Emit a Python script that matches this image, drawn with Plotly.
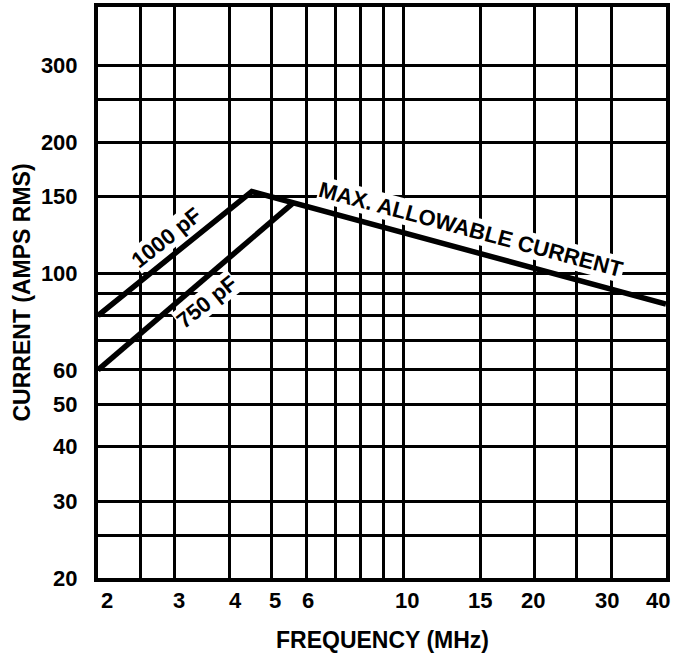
import numpy as np
import plotly.graph_objects as go

# ---- data ----
x_grid = [2, 2.5, 3, 4, 5, 6, 7, 8, 9, 10, 15, 20, 25, 30, 40]
x_tick_vals = [2, 3, 4, 5, 6, 10, 15, 20, 30, 40]
x_tick_text = ["2", "3", "4", "5", "6", "10", "15", "20", "30", "40"]
x_tick_shift = [9, 4, 6, 3, 2, 4, 0, -2, -4, -8]

y_grid = [20, 25, 30, 40, 50, 60, 70, 80, 90, 100, 150, 200, 250, 300]
y_tick_vals = [20, 30, 40, 50, 60, 100, 150, 200, 300]
y_tick_text = ["20", "30", "40", "50", "60", "100", "150", "200", "300"]

freq_1000pf = [2, 4.5, 40]
curr_1000pf = [80, 154, 85]
freq_750pf = [2, 5.6]
curr_750pf = [60, 145]

FONT = "Liberation Sans, Arial, Helvetica, sans-serif"
BOLD = dict(family=FONT, color="black", weight="bold")

fig = go.Figure()
fig.add_trace(go.Scatter(x=freq_1000pf, y=curr_1000pf, mode="lines",
                         line=dict(color="black", width=5.5), showlegend=False,
                         name="1000 pF / Max. allowable current"))
fig.add_trace(go.Scatter(x=freq_750pf, y=curr_750pf, mode="lines",
                         line=dict(color="black", width=5.5), showlegend=False,
                         name="750 pF"))

# x tick labels as annotations (hand-lettered offsets)
for v, t, s in zip(x_tick_vals, x_tick_text, x_tick_shift):
    fig.add_annotation(x=np.log10(v), y=0, xref="x", yref="paper", text=t,
                       showarrow=False, yanchor="middle", yshift=-22, xshift=s,
                       font=dict(size=22, **BOLD))

# axis titles
fig.add_annotation(x=0.5, y=0, xref="paper", yref="paper", text="FREQUENCY (MHz)",
                   showarrow=False, yanchor="middle", yshift=-62, xshift=0,
                   font=dict(size=23, **BOLD))
fig.add_annotation(x=0, y=0.5, xref="paper", yref="paper", text="CURRENT (AMPS RMS)",
                   showarrow=False, xanchor="center", xshift=-77, textangle=-90,
                   font=dict(size=23, **BOLD))

# curve labels
fig.add_annotation(x=np.log10(2.87), y=np.log10(121), xref="x", yref="y",
                   text="1000 pF", showarrow=False, textangle=-38.5,
                   bgcolor="white", borderpad=0,
                   font=dict(size=22, **BOLD))
fig.add_annotation(x=np.log10(3.56), y=np.log10(86), xref="x", yref="y",
                   text="750 pF", showarrow=False, textangle=-38.5,
                   bgcolor="white", borderpad=0,
                   font=dict(size=22, **BOLD))
fig.add_annotation(x=np.log10(14.3), y=np.log10(125.7), xref="x", yref="y",
                   text="MAX. ALLOWABLE CURRENT", showarrow=False, textangle=15,
                   bgcolor="white", borderpad=0,
                   font=dict(size=22, **BOLD))

fig.update_xaxes(type="log", range=[np.log10(2), np.log10(40)],
                 tickvals=x_grid, ticktext=[""] * len(x_grid),
                 showgrid=True, gridcolor="black", gridwidth=3,
                 showline=True, linecolor="black", linewidth=4, mirror=True,
                 ticks="", zeroline=False, automargin=False)
fig.update_yaxes(type="log", range=[np.log10(20), np.log10(408)],
                 tickvals=y_grid,
                 ticktext=[y_tick_text[y_tick_vals.index(v)] if v in y_tick_vals else "" for v in y_grid],
                 showgrid=True, gridcolor="black", gridwidth=3,
                 showline=True, linecolor="black", linewidth=4, mirror=True,
                 ticks="", zeroline=False, ticklabelstandoff=12, automargin=False,
                 tickfont=dict(size=22, **BOLD))

fig.update_layout(width=678, height=656,
                  margin=dict(l=98, r=12, t=7, b=78),
                  paper_bgcolor="white", plot_bgcolor="white",
                  showlegend=False)

fig.write_html("out.html", config={"displayModeBar": False},
               post_script="document.body.style.margin='0';")
